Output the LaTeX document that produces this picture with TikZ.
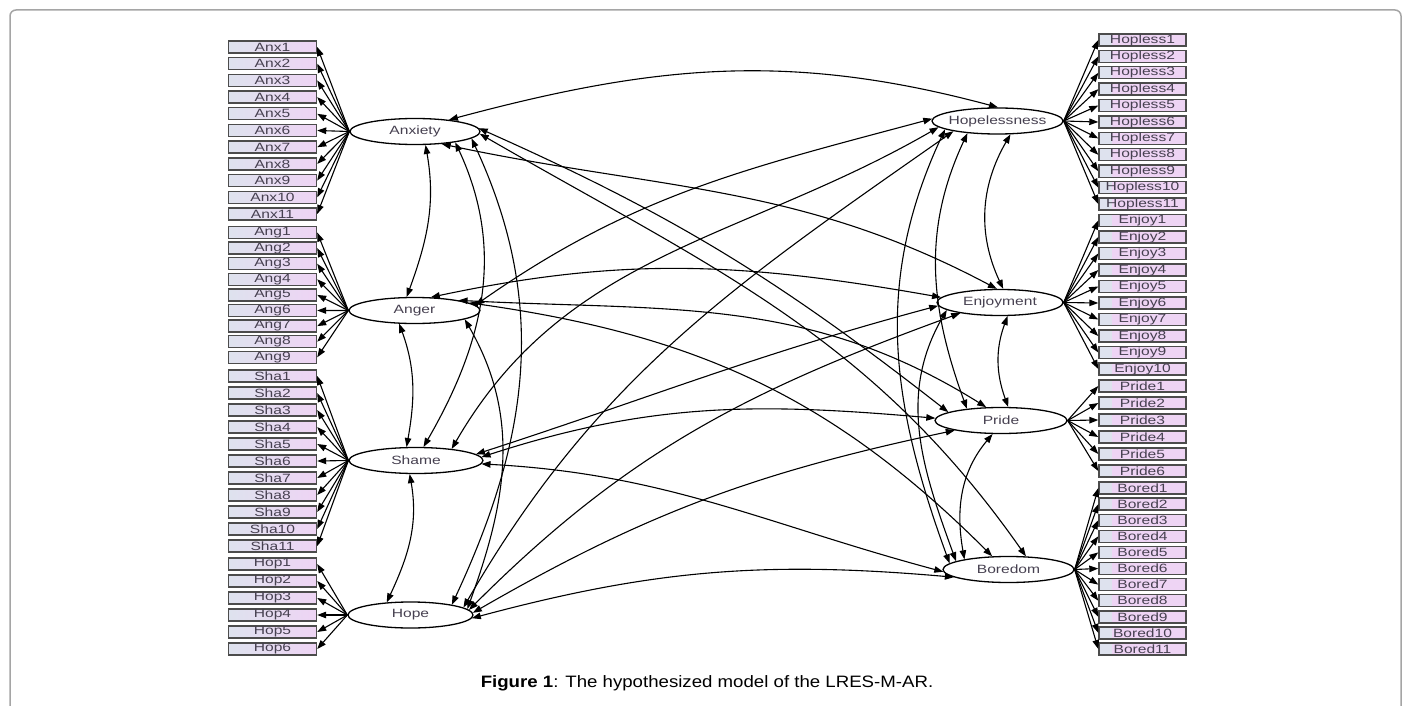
\documentclass[tikz,border=0pt]{standalone}
\usepackage{fontspec}
\setmainfont{Liberation Sans}
\newfontfamily\widefont[FakeStretch=1.3]{Liberation Sans}
\newfontfamily\capfont[FakeStretch=1.13]{Liberation Sans}
\usetikzlibrary{shapes.geometric,arrows.meta}
\definecolor{boxblue}{RGB}{222,226,238}
\definecolor{boxpink}{RGB}{238,212,244}
\definecolor{framegray}{RGB}{165,165,165}
\definecolor{txtgray}{RGB}{70,64,80}
\tikzset{
  leftbox/.style={draw=black!70, line width=1.4pt, left color=boxblue, right color=boxpink, minimum width=88pt, minimum height=12pt, inner sep=0pt, font=\widefont\fontsize{12}{12}\selectfont, text=txtgray},
  rightbox/.style={draw=black!70, line width=1.4pt, fill=boxpink, minimum width=87pt, minimum height=12pt, inner sep=0pt, font=\widefont\fontsize{12}{12}\selectfont, text=txtgray,
    path picture={\fill[boxblue] (path picture bounding box.south west) rectangle ([xshift=13pt]path picture bounding box.north west);}},
  latent/.style={ellipse, draw, line width=1.3pt, fill=white, minimum height=26pt, inner sep=0pt,
    label={[font=\widefont\fontsize{12}{12}\selectfont, text=txtgray]center:#1}},
  ind/.style={-{Triangle[length=9pt,width=6.5pt]}, line width=1.1pt},
  cov/.style={{Triangle[length=9pt,width=6.5pt]}-{Triangle[length=9pt,width=6.5pt]}, line width=1.1pt}
}
\begin{document}
\begin{tikzpicture}[x=1pt,y=-1pt]
\useasboundingbox (0,0) rectangle (1411,706);
\fill[white] (0,0) rectangle (1411,706);
\draw[framegray, line width=1.5pt, rounded corners=6pt] (10,10) rectangle (1401,760);

% indicators
\foreach \lab/\nm/\n/\y/\d in {Anx/anx/11/47/16.7, Ang/ang/9/232.5/15.6, Sha/sha/11/376/17, Hop/hop/6/564/17}
  \foreach \i in {1,...,\n}
    \node[leftbox] (\nm\i) at (272.5,{\y+(\i-1)*\d}) {\lab\i};
\foreach \lab/\nm/\n/\y/\d in {Hopless/hopl/11/40/16.4, Enjoy/enj/10/220.5/16.5, Pride/pri/6/386/17, Bored/bor/11/488/16.1}
  \foreach \i in {1,...,\n}
    \node[rightbox] (\nm\i) at (1142.5,{\y+(\i-1)*\d}) {\lab\i};

% latent factors
\node[latent=Anxiety, minimum width=130pt] (anx) at (415,131.5) {};
\node[latent=Anger, minimum width=131pt] (ang) at (414.5,310.5) {};
\node[latent=Shame, minimum width=134pt] (sha) at (416,460.5) {};
\node[latent=Hope, minimum width=125pt] (hop) at (410.5,615) {};
\node[latent=Hopelessness, minimum width=131pt] (hopl) at (997.5,121) {};
\node[latent=Enjoyment, minimum width=126pt] (enj) at (1000,302.5) {};
\node[latent=Pride, minimum width=132pt] (pri) at (1001,420.5) {};
\node[latent=Boredom, minimum width=131pt] (bor) at (1008.5,569.5) {};

\foreach \i in {1,...,11} \draw[ind] (anx.west) -- (anx\i.east);
\foreach \i in {1,...,9} \draw[ind] (ang.west) -- (ang\i.east);
\foreach \i in {1,...,11} \draw[ind] (sha.west) -- (sha\i.east);
\foreach \i in {1,...,6} \draw[ind] (hop.west) -- (hop\i.east);
\foreach \i in {1,...,11} \draw[ind] (hopl.east) -- (hopl\i.west);
\foreach \i in {1,...,10} \draw[ind] (enj.east) -- (enj\i.west);
\foreach \i in {1,...,6} \draw[ind] (pri.east) -- (pri\i.west);
\foreach \i in {1,...,11} \draw[ind] (bor.east) -- (bor\i.west);

% covariances
\draw[cov] (anx.-52) to[out=-80,in=70] (ang.120);
\draw[cov] (ang.-139) to[out=-70,in=80] (sha.125);
\draw[cov] (sha.-115) to[out=-80,in=65] (hop.152);
\draw[cov] (anx.-15) to[out=-65,in=60] (sha.61);
\draw[cov] (anx.-7) to[out=-65,in=65] (hop.14);
\draw[cov] (ang.-10) to[out=-60,in=70] (hop.6);
\draw[cov] (hopl.-46) to[out=-120,in=115] (enj.77);
\draw[cov] (enj.-61) to[out=-110,in=110] (pri.62);
\draw[cov] (pri.-122) to[out=-130,in=100] (bor.167);
\draw[cov] (hopl.-158) to[out=-115,in=110] (pri.161);
\draw[cov] (hopl.189) to[out=-115,in=110] (bor.174);
\draw[cov] (enj.-172) to[out=-120,in=110] (bor.171);
\draw[cov] (anx.19.5) to[out=15,in=165] (hopl.88);
\draw[cov] (anx.-25.6) to[out=-12,in=152] (enj.103);
\draw[cov] (anx.3) to[out=-24,in=142] (pri.171);
\draw[cov] (anx.-2) to[out=-30,in=125] (bor.37);
\draw[cov] (ang.5) to[out=35,in=195] (hopl.178);
\draw[cov] (ang.39) to[out=12,in=170] (enj.175);
\draw[cov] (ang.13) to[out=-3,in=148] (pri.138);
\draw[cov] (ang.8) to[out=-8,in=135] (bor.141);
\draw[cov] (sha.18) to[out=60,in=210] (hopl.186);
\draw[cov] (sha.6) to[out=18,in=195] (enj.-177);
\draw[cov] (sha.3) to[out=18,in=175] (pri.178);
\draw[cov] (sha.-3) to[out=-3,in=165] (bor.182);
\draw[cov] (hop.8) to[out=60,in=215] (hopl.193);
\draw[cov] (hop.5) to[out=45,in=200] (enj.-165);
\draw[cov] (hop.2) to[out=30,in=192] (pri.-168);
\draw[cov] (hop.-3) to[out=15,in=175] (bor.-172);

\node[font=\capfont\fontsize{16.5}{16.5}\selectfont] (caption) at (707,683) {\textbf{Figure 1}: The hypothesized model of the LRES-M-AR.};
\end{tikzpicture}
\end{document}
